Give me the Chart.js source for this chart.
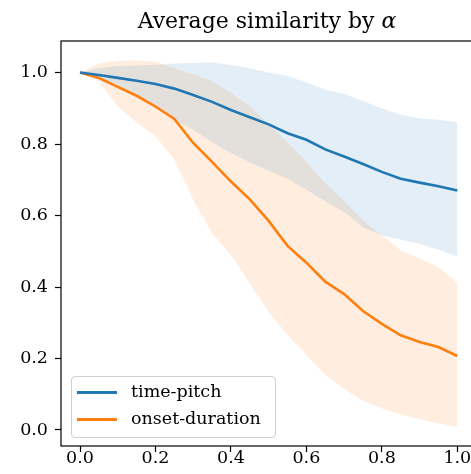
<!DOCTYPE html>
<html>
<head>
<meta charset="utf-8">
<script src="https://cdn.jsdelivr.net/npm/chart.js@4.4.1/dist/chart.umd.min.js"></script>
<style>
  html, body { margin: 0; padding: 0; background: #fff; overflow: hidden; }
  #wrap { position: relative; width: 477px; height: 474px; }
  #legend {
    position: absolute; left: 71px; top: 376px; width: 203px; height: 60px;
    border: 1px solid #d0d0d0; border-radius: 4px; background: rgba(255,255,255,0.8);
    font-family: "DejaVu Serif", serif; font-size: 17.5px; color: #000;
  }
  .item { position: absolute; left: 0; height: 20px; width: 200px; }
  .item .sw { position: absolute; left: 5px; width: 40px; height: 3px; top: 9px; }
  .item .tx { position: absolute; left: 59px; top: -1px; white-space: nowrap; }
</style>
</head>
<body>
<div id="wrap">
  <canvas id="myChart" width="477" height="474"></canvas>
  <div id="legend"></div>
</div>
<script>
// alpha values (x axis)
const alphas = [0, 0.05, 0.1, 0.15, 0.2, 0.25, 0.3, 0.35, 0.4, 0.45, 0.5,
                0.55, 0.6, 0.65, 0.7, 0.75, 0.8, 0.85, 0.9, 0.95, 1.0];

// time-pitch: mean and band
const timePitchMean  = [1.0, 0.993, 0.985, 0.977, 0.968, 0.955, 0.937, 0.918, 0.895, 0.875, 0.855,
                        0.83, 0.812, 0.785, 0.765, 0.744, 0.722, 0.703, 0.692, 0.682, 0.670];
const timePitchUpper = [1.0, 1.012, 1.018, 1.02, 1.022, 1.025, 1.027, 1.028, 1.022, 1.012, 1.0,
                        0.99, 0.972, 0.952, 0.94, 0.92, 0.9, 0.882, 0.872, 0.868, 0.861];
const timePitchLower = [1.0, 0.98, 0.955, 0.93, 0.9, 0.868, 0.84, 0.805, 0.775, 0.748, 0.725,
                        0.703, 0.672, 0.64, 0.61, 0.567, 0.545, 0.533, 0.52, 0.505, 0.485];

// onset-duration: mean and band
const onsetMean  = [1.0, 0.985, 0.96, 0.935, 0.905, 0.87, 0.803, 0.75, 0.695, 0.645, 0.585,
                    0.515, 0.468, 0.415, 0.38, 0.333, 0.297, 0.265, 0.246, 0.232, 0.207];
const onsetUpper = [1.0, 1.025, 1.033, 1.034, 1.03, 1.012, 0.995, 0.976, 0.943, 0.906, 0.855,
                    0.805, 0.75, 0.69, 0.64, 0.585, 0.545, 0.503, 0.48, 0.455, 0.411];
const onsetLower = [1.0, 0.975, 0.905, 0.86, 0.822, 0.757, 0.644, 0.55, 0.49, 0.41, 0.33,
                    0.265, 0.21, 0.153, 0.115, 0.082, 0.06, 0.044, 0.03, 0.018, 0.009];

const seriesNames = ["time-pitch", "onset-duration"];
const seriesColors = ["#1f77b4", "#ff7f0e"];
const xTicks = [0, 0.2, 0.4, 0.6, 0.8, 1.0];
const yTicks = [0, 0.2, 0.4, 0.6, 0.8, 1.0];

const pts = arr => arr.map((v, i) => ({ x: alphas[i], y: v }));
const FONT = "'DejaVu Serif', serif";

// box around the axes + title with an italic alpha
const frame = {
  id: "frame",
  afterDraw(chart) {
    const a = chart.chartArea, c = chart.ctx;
    c.save();
    c.strokeStyle = "#000";
    c.lineWidth = 1.2;
    c.strokeRect(a.left, a.top, a.right - a.left, a.bottom - a.top);

    const t1 = "Average similarity by ", t2 = "α";
    c.fillStyle = "#000";
    c.textBaseline = "alphabetic";
    c.textAlign = "left";
    c.font = "22px " + FONT;
    const w1 = c.measureText(t1).width;
    c.font = "italic 22px " + FONT;
    const w2 = c.measureText(t2).width;
    let x = (a.left + a.right) / 2 - 2 - (w1 + w2) / 2;
    c.font = "22px " + FONT;
    c.fillText(t1, x, 28);
    c.font = "italic 22px " + FONT;
    c.fillText(t2, x + w1, 28);
    c.restore();
  }
};

const ctx = document.getElementById("myChart").getContext("2d");
const myChart = new Chart(ctx, {
  type: "line",
  data: {
    datasets: [
      { label: seriesNames[0], data: pts(timePitchMean), borderColor: seriesColors[0], borderWidth: 2.6, fill: false },
      { label: seriesNames[1], data: pts(onsetMean), borderColor: seriesColors[1], borderWidth: 2.6, fill: false },
      { data: pts(timePitchUpper), borderWidth: 0, borderColor: "transparent", backgroundColor: "rgba(31,119,180,0.125)", fill: "+1" },
      { data: pts(timePitchLower), borderWidth: 0, borderColor: "transparent", fill: false },
      { data: pts(onsetUpper), borderWidth: 0, borderColor: "transparent", backgroundColor: "rgba(255,127,14,0.13)", fill: "+1" },
      { data: pts(onsetLower), borderWidth: 0, borderColor: "transparent", fill: false }
    ]
  },
  options: {
    responsive: false,
    animation: false,
    layout: { padding: { top: 41 } },
    elements: { point: { radius: 0 }, line: { tension: 0 } },
    plugins: {
      legend: { display: false },
      tooltip: { enabled: false },
      title: { display: false }
    },
    scales: {
      x: {
        type: "linear",
        min: -0.0504, max: 1.0522,
        afterFit: s => { s.height = 28; },
        afterBuildTicks: s => { s.ticks = xTicks.map(v => ({ value: v })); },
        border: { display: false },
        grid: { drawOnChartArea: false, drawTicks: true, tickLength: 6, tickWidth: 1.2, tickColor: "#000" },
        ticks: { color: "#000", padding: -4, maxRotation: 0, font: { family: FONT, size: 17.5 }, callback: v => v.toFixed(1) }
      },
      y: {
        type: "linear",
        min: -0.0448, max: 1.0882,
        afterFit: s => { s.width = 61; },
        afterBuildTicks: s => { s.ticks = yTicks.map(v => ({ value: v })); },
        border: { display: false },
        grid: { drawOnChartArea: false, drawTicks: true, tickLength: 6, tickWidth: 1.2, tickColor: "#000" },
        ticks: { color: "#000", padding: 7, font: { family: FONT, size: 17.5 }, callback: v => v.toFixed(1) }
      }
    }
  },
  plugins: [frame]
});

// legend in the lower left, like the original
const legend = document.getElementById("legend");
seriesNames.forEach((name, i) => {
  const d = document.createElement("div");
  d.className = "item";
  d.style.top = (5 + i * 26.6) + "px";
  d.innerHTML = `<span class="sw" style="background:${seriesColors[i]}"></span><span class="tx">${name}</span>`;
  legend.appendChild(d);
});
</script>
</body>
</html>
